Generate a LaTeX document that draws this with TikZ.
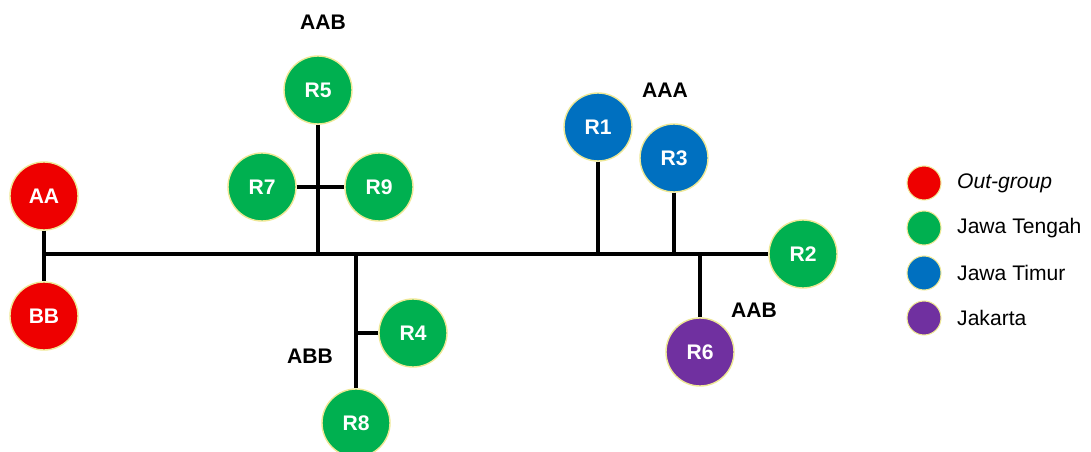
\documentclass[tikz,border=0pt]{standalone}
\usepackage{fontspec}
\setmainfont{Liberation Sans}
\usepackage{tikz}
\usetikzlibrary{arrows,shapes,positioning}

\definecolor{outred}{RGB}{238,0,0}
\definecolor{jtgreen}{RGB}{0,176,80}
\definecolor{jtblue}{RGB}{0,112,192}
\definecolor{jkpurple}{RGB}{112,48,160}
\definecolor{rimyellow}{RGB}{238,232,150}

\tikzset{
    hap/.style={circle, minimum size=1.36cm, inner sep=0pt, draw=rimyellow, line width=0.8pt,
        text=white, font=\fontsize{12}{14}\selectfont\bfseries},
    key/.style={circle, minimum size=0.68cm, inner sep=0pt, draw=rimyellow, line width=0.6pt},
    keytext/.style={anchor=west, font=\fontsize{12}{14}\selectfont},
    tag/.style={font=\fontsize{12}{14}\selectfont\bfseries},
    branch/.style={line width=2pt}
}

\begin{document}
\begin{tikzpicture}[x=0.02cm,y=-0.02cm]
        \useasboundingbox (0,0) rectangle (1091,452);

        \node[hap, fill=outred] (AA) at (44,196) {AA} ;
        \node[hap, fill=outred] (BB) at (44,316) {BB} ;

        \node[hap, fill=jtgreen] (R5) at (318,90) {R5} ;
        \node[hap, fill=jtgreen] (R7) at (262,187) {R7} ;
        \node[hap, fill=jtgreen] (R9) at (379,187) {R9} ;
        \node[hap, fill=jtgreen] (R4) at (413,333) {R4} ;
        \node[hap, fill=jtgreen] (R8) at (356,423) {R8} ;
        \node[hap, fill=jtgreen] (R2) at (803,254) {R2} ;

        \node[hap, fill=jtblue] (R1) at (598,127) {R1} ;
        \node[hap, fill=jtblue] (R3) at (674,158) {R3} ;

        \node[hap, fill=jkpurple] (R6) at (700,352) {R6} ;

        \node[tag] (L1) at (323,22) {AAB} ;
        \node[tag] (L2) at (665,90) {AAA} ;
        \node[tag] (L3) at (754,310) {AAB} ;
        \node[tag] (L4) at (310,356) {ABB} ;

        % junctions on the tree
        \coordinate (j0) at (44,254) ;
        \coordinate (jR5) at (318,254) ;
        \coordinate (jR8) at (356,254) ;
        \coordinate (jR4) at (356,333) ;
        \coordinate (jR1) at (598,254) ;
        \coordinate (jR3) at (674,254) ;
        \coordinate (jR6) at (700,254) ;

        \draw[branch] (AA) -- (BB) ;
        \draw[branch] (j0) -- (R2) ;
        \draw[branch] (R5) -- (jR5) ;
        \draw[branch] (R7) -- (R9) ;
        \draw[branch] (jR8) -- (R8) ;
        \draw[branch] (jR4) -- (R4) ;
        \draw[branch] (R1) -- (jR1) ;
        \draw[branch] (R3) -- (jR3) ;
        \draw[branch] (jR6) -- (R6) ;

        % legend
        \node[key, fill=outred] (K1) at (924,183) {} ;
        \node[key, fill=jtgreen] (K2) at (924,228) {} ;
        \node[key, fill=jtblue] (K3) at (924,273) {} ;
        \node[key, fill=jkpurple] (K4) at (924,318) {} ;
        \node[keytext] (T1) at (951,183) {\itshape Out-group} ;
        \node[keytext] (T2) at (951,228) {Jawa Tengah} ;
        \node[keytext] (T3) at (951,273) {Jawa Timur} ;
        \node[keytext] (T4) at (951,318) {Jakarta} ;
    \end{tikzpicture}
\end{document}
